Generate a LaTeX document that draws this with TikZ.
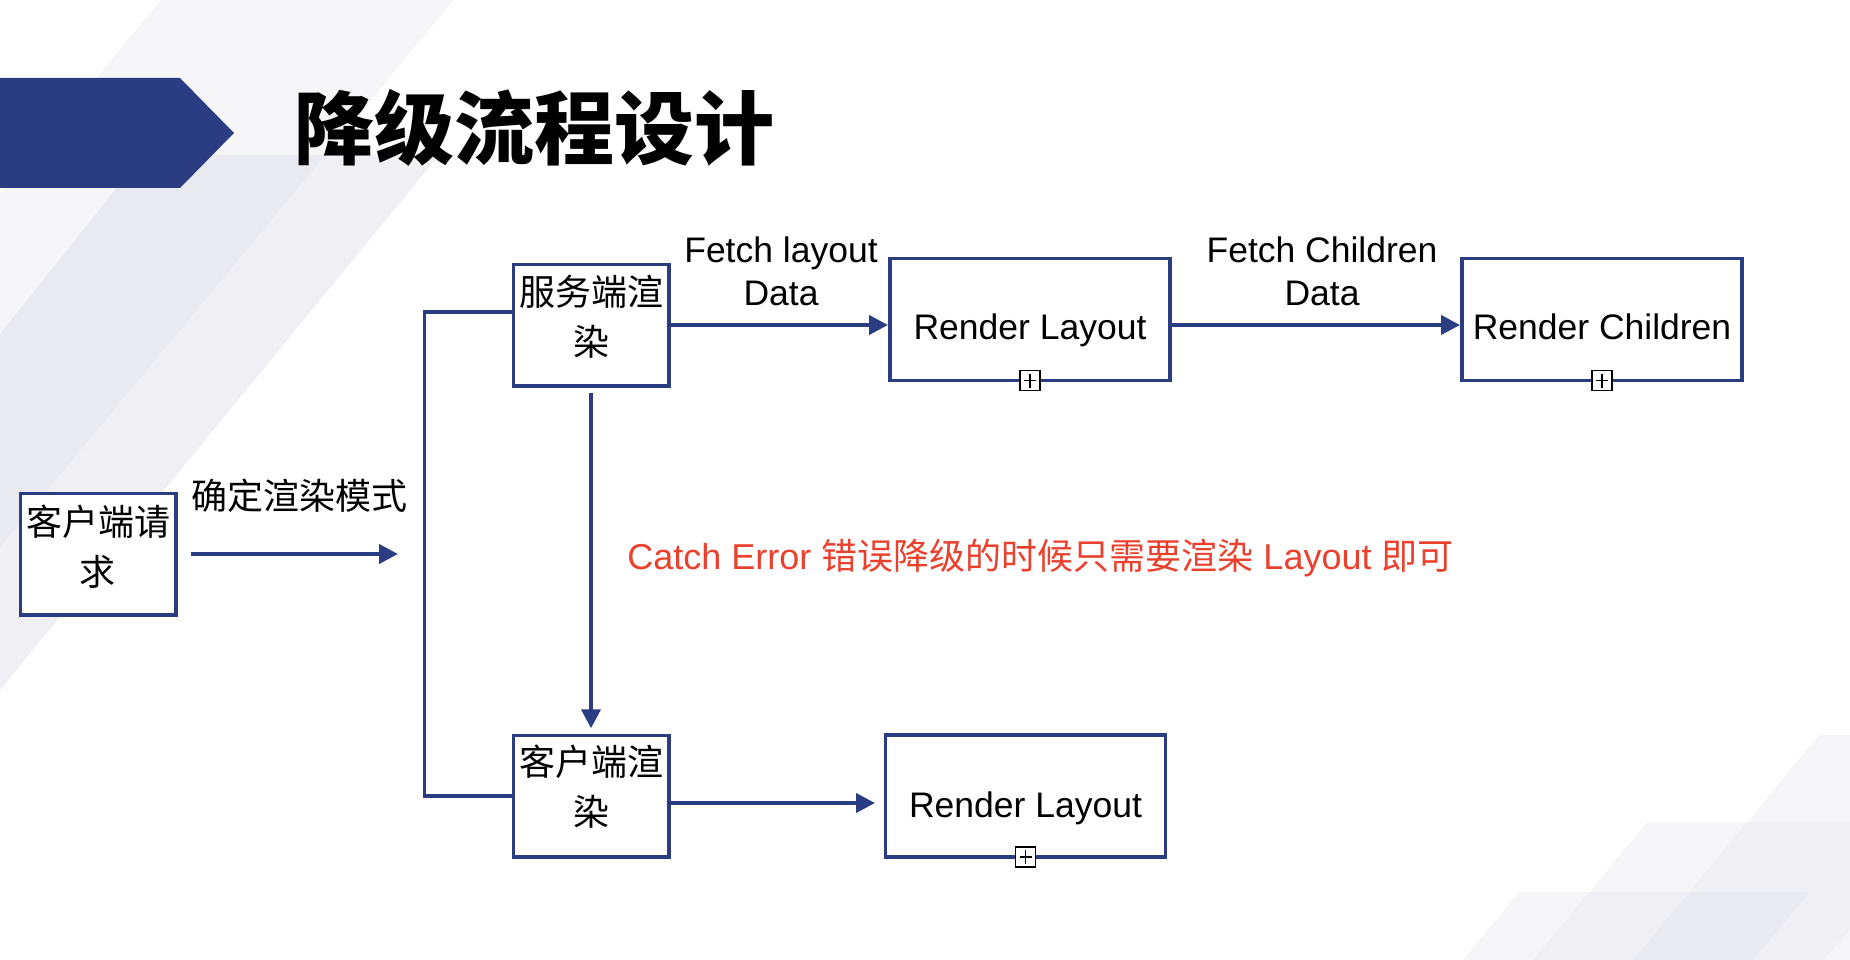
\documentclass[tikz,border=0pt]{standalone}
\usepackage{fontspec}
\setmainfont{Liberation Sans}
\newfontfamily\cjk{Noto Sans CJK SC}
\usetikzlibrary{arrows.meta}
\definecolor{navy}{RGB}{42,61,130}
\definecolor{errred}{RGB}{233,65,45}
\definecolor{bgc}{RGB}{212,212,226}
\newcommand\rz[2]{\raisebox{#1}[0pt][0pt]{#2}}
\begin{document}
\begin{tikzpicture}[x=1pt,y=-1pt,
  box/.style={draw=navy, line width=3.5pt, fill=white, inner sep=0pt, outer sep=0pt},
  cjkbox/.style={box, minimum width=155.5pt, minimum height=121.5pt, font=\fontsize{36}{50}\selectfont\cjk},
  renbox/.style={box, minimum width=280pt, minimum height=122pt, font=\fontsize{35.5}{43}\selectfont},
  arr/.style={draw=navy, line width=4pt, -{Triangle[length=19pt,width=19pt]}},
  bracketline/.style={draw=navy, line width=3.3pt},
  lbl/.style={anchor=base, inner sep=0pt, font=\fontsize{35.5}{43.3}\selectfont},
  cjklbl/.style={anchor=base, inner sep=0pt, font=\fontsize{36}{43}\selectfont\cjk},
  plusbox/.style={draw=black, fill=white, line width=1.2pt, minimum size=20pt, inner sep=0pt, outer sep=0pt,
    path picture={\draw[black, line width=1.4pt]
      ([yshift=-3pt]path picture bounding box.north) -- ([yshift=3pt]path picture bounding box.south)
      ([xshift=4pt]path picture bounding box.west) -- ([xshift=-4pt]path picture bounding box.east);}},
  shade/.style={fill=bgc, fill opacity=0.19},
  shadedark/.style={fill=bgc, fill opacity=0.36}]

% canvas
\fill[white] (0,0) rectangle (1850,960);
\useasboundingbox (0,0) rectangle (1850,960);

% background stripes, top left
\fill[shade] (161,0) -- (454,0) -- (0,547) -- (0,194) -- cycle;
\fill[shadedark] (143,155) -- (439,155) -- (0,690) -- (0,334) -- cycle;
% background stripes, bottom right
\fill[shade] (1819,735) -- (1850,735) -- (1850,960) -- (1633,960) -- cycle;
\fill[shade] (1647,822) -- (1850,822) -- (1850,930) -- (1823,960) -- (1533,960) -- cycle;
\fill[shade] (1519,892) -- (1810,892) -- (1753,960) -- (1463,960) -- cycle;

% title banner
\fill[navy] (0,78) -- (180,78) -- (234,133) -- (180,188) -- (0,188) -- cycle;
\node[anchor=base, inner sep=0pt, font=\fontsize{80}{96}\selectfont\cjk\bfseries] (title) at (534,159) {降级流程设计};

% boxes
\node[cjkbox] (req) at (98,554) {\rz{19pt}{\begin{tabular}[t]{@{}c@{}}客户端请\\求\end{tabular}}};
\node[cjkbox] (ssr) at (591,325) {\rz{20pt}{\begin{tabular}[t]{@{}c@{}}服务端渲\\染\end{tabular}}};
\node[cjkbox] (csr) at (591,796) {\rz{20.5pt}{\begin{tabular}[t]{@{}c@{}}客户端渲\\染\end{tabular}}};
\node[renbox] (rl1) at (1030,319.5) {\rz{-20.5pt}{Render Layout}};
\node[renbox] (rc) at (1602,319.5) {\rz{-20.5pt}{Render Children}};
\node[renbox] (rl2) at (1025.5,796) {\rz{-21pt}{Render Layout}};

% expand markers
\node[plusbox] (p1) at (rl1.south) {};
\node[plusbox] (p2) at (rc.south) {};
\node[plusbox] (p3) at (rl2.south) {};

% labels
\node[cjklbl] (modeLbl) at (299,509.5) {确定渲染模式};
\node[lbl] (fetchL) at (781,262) {\begin{tabular}[t]{@{}c@{}}Fetch layout\\Data\end{tabular}};
\node[lbl] (fetchC) at (1322,262) {\begin{tabular}[t]{@{}c@{}}Fetch Children\\Data\end{tabular}};
\node[lbl, text=errred, font=\fontsize{36}{43}\selectfont] (errLbl) at (1040.5,569) {Catch Error {\cjk 错误降级的时候只需要渲染} Layout {\cjk 即可}};

% connectors
\coordinate (modeEnd) at (398,554);
\coordinate (brX) at (424.5,0);
\draw[arr] ([xshift=15.5pt]req.east) -- (modeEnd);
\draw[bracketline] ([yshift=13pt]ssr.west) -| (brX |- csr.west) -- (csr.west);
\draw[arr] (ssr.east) -- ([xshift=-2pt]rl1.west |- ssr.east);
\draw[arr] (rl1.east |- ssr.east) -- ([xshift=-2pt]rc.west |- ssr.east);
\draw[arr, shorten <=7pt, shorten >=7pt] (ssr.south) -- (csr.north);
\draw[arr] ([yshift=-7pt]csr.east) -- ([yshift=-7pt, xshift=-10.5pt]rl2.west);
\end{tikzpicture}
\end{document}
